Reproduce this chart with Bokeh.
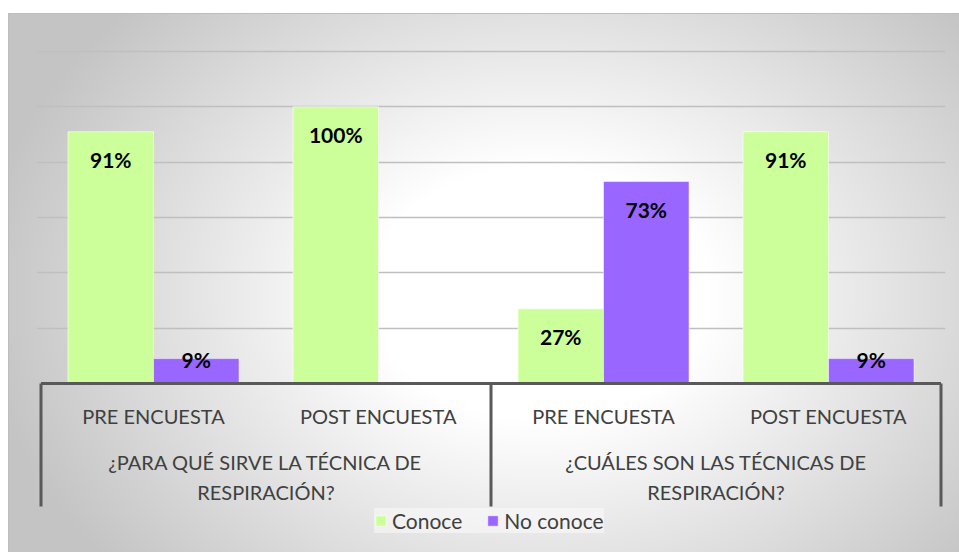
from bokeh.plotting import figure
from bokeh.models import (ColumnDataSource, FactorRange, Range1d, FixedTicker,
                          Legend, LegendItem, InlineStyleSheet)
from bokeh.transform import dodge
from bokeh.core.properties import value
from bokeh.embed import file_html
from bokeh.resources import INLINE

# ---- data -------------------------------------------------------------
questions = ["¿PARA QUÉ SIRVE LA TÉCNICA DE\nRESPIRACIÓN?",
             "¿CUÁLES SON LAS TÉCNICAS DE\nRESPIRACIÓN?"]
moments = ["PRE ENCUESTA", "POST ENCUESTA"]
series_names = ["Conoce", "No conoce"]
conoce = [0.91, 1.00, 0.27, 0.91]
no_conoce = [0.09, 0.00, 0.73, 0.09]
grid_ticks = [0.2, 0.4, 0.6, 0.8, 1.0, 1.2]

# ---- styling ----------------------------------------------------------
GREEN = "#CCFF99"
PURPLE = "#9966FF"
TEXT = "#404040"
AXIS = "#595959"
FONT = "Lato"

W, H = 959, 552
FRAME_L, FRAME_R, FRAME_T, FRAME_B = 36, 945, 20, 545
ZERO_PX, TOP_GRID_PX = 383, 51          # screen rows of 0 % and 120 %
scale = (ZERO_PX - TOP_GRID_PX) / grid_ticks[-1]   # px per unit
y_start = -(FRAME_B - ZERO_PX) / scale
y_end = (ZERO_PX - FRAME_T) / scale

factors = [(q, m) for q in questions for m in moments]

x_range = FactorRange(factors=factors, factor_padding=0, subgroup_padding=0,
                      group_padding=0, range_padding=0.02,
                      range_padding_units="absolute")

p = figure(width=W, height=H, x_range=x_range,
           y_range=Range1d(y_start, y_end),
           output_backend="svg", toolbar_location=None,
           min_border_left=FRAME_L, min_border_right=W - FRAME_R,
           min_border_top=FRAME_T, min_border_bottom=H - FRAME_B)

p.background_fill_color = None
p.border_fill_color = None
p.outline_line_color = None
p.xaxis.visible = False
p.yaxis.visible = False
p.xgrid.visible = False
p.ygrid.ticker = FixedTicker(ticks=grid_ticks)
p.ygrid.grid_line_color = "#bfbfbf"
p.ygrid.grid_line_width = 1.4

# soft radial backdrop of the chart area with its thin top/left edge
p.stylesheets = [InlineStyleSheet(css="""
:host {
  background:
    linear-gradient(#bdbdbd, #bdbdbd) 8px 13px / 951px 1px no-repeat,
    linear-gradient(#bdbdbd, #bdbdbd) 8px 13px / 1px 539px no-repeat,
    radial-gradient(ellipse 560px 420px at 532px 280px,
                    #ffffff 0%, #ffffff 30%, #c4c4c4 100%) 8px 13px / 951px 539px no-repeat,
    #ffffff;
}
""")]

src = ColumnDataSource(dict(x=factors, conoce=conoce, no_conoce=no_conoce))

BAR_W = 0.38
r_green = p.vbar(x=dodge("x", -BAR_W / 2, range=p.x_range), top="conoce",
                 width=BAR_W, source=src, fill_color=GREEN,
                 line_color="white", line_alpha=0.6, line_width=1)
r_purple = p.vbar(x=dodge("x", BAR_W / 2, range=p.x_range), top="no_conoce",
                  width=BAR_W, source=src, fill_color=PURPLE,
                  line_color="white", line_alpha=0.5, line_width=1)

# value labels, inside the bar end (short bars keep the label at their top)
lab_x, lab_y, lab_off, lab_txt = [], [], [], []
for vals, off in ((conoce, -BAR_W / 2), (no_conoce, BAR_W / 2)):
    for fac, v in zip(factors, vals):
        if v <= 0:
            continue
        lab_x.append((fac[0], fac[1], off))
        lab_y.append(v)
        lab_off.append(27.5 if v * scale > 60 else 0.5)
        lab_txt.append(f"{round(v * 100)}%")

p.text(x=lab_x, y=lab_y, text=lab_txt, y_offset=lab_off,
       text_align="center", text_baseline="middle",
       text_font=value(FONT), text_font_style="bold",
       text_font_size="21px", text_color="black")

# category axis: baseline, group separators, labels
first, last = factors[0], factors[-1]
p.segment(x0=[(first[0], first[1], -0.5)], y0=[0],
          x1=[(last[0], last[1], 0.5)], y1=[0],
          line_color=AXIS, line_width=3)

SEP_DEPTH = 123 / scale
sep_x = [(questions[0], moments[0], -0.5), (questions[1], moments[0], -0.5),
         (questions[1], moments[1], 0.5)]
p.segment(x0=sep_x, y0=[0] * 3, x1=sep_x, y1=[-SEP_DEPTH] * 3,
          line_color=AXIS, line_width=3)

p.text(x=factors, y=[0] * len(factors), text=[m for _, m in factors],
       y_offset=32, text_align="center", text_baseline="middle",
       text_font=value(FONT), text_font_size="20px", text_color=TEXT)

p.text(x=questions, y=[0] * len(questions), text=questions,
       y_offset=93, text_align="center", text_baseline="middle",
       text_line_height=1.25,
       text_font=value(FONT), text_font_size="20px", text_color=TEXT)

legend = Legend(items=[LegendItem(label=series_names[0], renderers=[r_green]),
                       LegendItem(label=series_names[1], renderers=[r_purple])],
                location=(338, 12), orientation="horizontal",
                border_line_color=None, background_fill_color="white",
                background_fill_alpha=0.45, glyph_width=13, glyph_height=13,
                label_standoff=5, spacing=24, padding=10, margin=0,
                label_text_font=FONT, label_text_font_size="21px",
                label_text_color=TEXT)
p.add_layout(legend)

open("out.html", "w").write(file_html(p, INLINE))
